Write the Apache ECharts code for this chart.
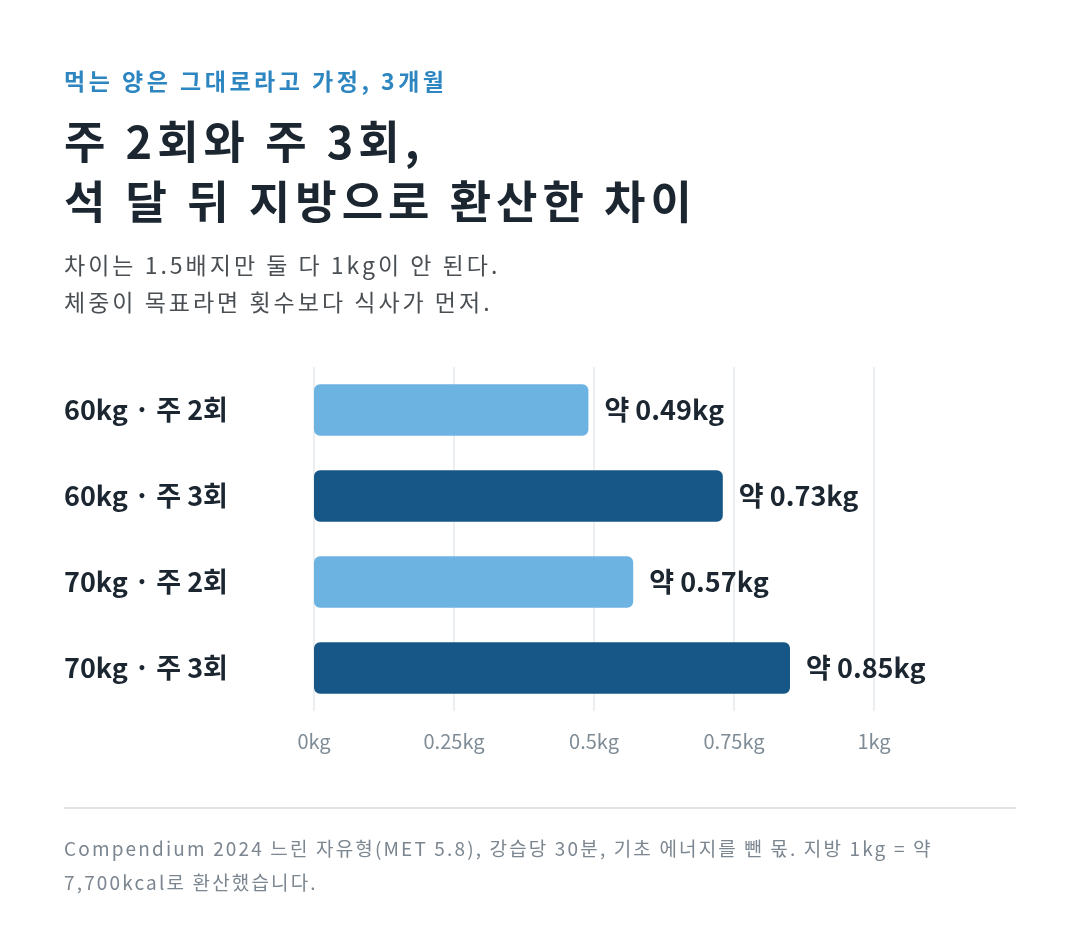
<!DOCTYPE html>
<html>
<head>
<meta charset="utf-8">
<script src="https://cdn.jsdelivr.net/npm/echarts@6/dist/echarts.min.js"></script>
<style>
  html, body { margin: 0; padding: 0; background: #fff; }
  #wrap { position: relative; width: 1080px; height: 940px; font-family: "Noto Sans CJK KR", sans-serif; }
  #chart { position: absolute; left: 0; top: 0; width: 1080px; height: 940px; }
  .txt { position: absolute; left: 64px; white-space: nowrap; }
  #kicker { top: 68px; font-size: 23px; line-height: 24px; font-weight: bold; color: #2e86c1; letter-spacing: 3.5px; }
  #title { top: 110px; font-size: 45px; line-height: 60px; font-weight: bold; color: #1b2631; letter-spacing: 5px; }
  #desc { top: 246px; font-size: 23px; line-height: 37px; color: #4a4f54; letter-spacing: 3px; }
  #note { top: 831px; font-size: 19px; line-height: 34px; color: #7b8690; letter-spacing: 2.15px; }
  #rule { position: absolute; left: 64px; top: 807px; width: 952px; height: 2px; background: #dfe3e6; }
</style>
</head>
<body>
<div id="wrap">
  <div id="chart"></div>
  <div class="txt" id="kicker">먹는 양은 그대로라고 가정, 3개월</div>
  <div class="txt" id="title">주 2회와 주 3회,<br>석 달 뒤 지방으로 환산한 차이</div>
  <div class="txt" id="desc">차이는 1.5배지만 둘 다 1kg이 안 된다.<br>체중이 목표라면 횟수보다 식사가 먼저.</div>
  <div id="rule"></div>
  <div class="txt" id="note">Compendium 2024 느린 자유형(MET 5.8), 강습당 30분, 기초 에너지를 뺀 몫. 지방 1kg = 약<br>7,700kcal로 환산했습니다.</div>
</div>
<script>
// 데이터
const categories = ['60kg · 주 2회', '60kg · 주 3회', '70kg · 주 2회', '70kg · 주 3회'];
const fatLoss = [0.49, 0.73, 0.57, 0.85];
const barColors = ['#6db3e2', '#175788', '#6db3e2', '#175788'];
const tickLabels = ['0kg', '0.25kg', '0.5kg', '0.75kg', '1kg'];

const FONT = '"Noto Sans CJK KR", sans-serif';

let myChart = echarts.init(document.getElementById('chart'));
let option = {
  textStyle: { fontFamily: FONT },
  grid: {
    left: 314,
    right: 206,
    top: 367,
    bottom: 229
  },
  xAxis: {
    type: 'value',
    min: 0,
    max: 1,
    interval: 0.25,
    axisLine: { show: false },
    axisTick: { show: false },
    splitLine: { show: true, lineStyle: { color: '#e6eaed', width: 1.5 } },
    axisLabel: {
      margin: 20,
      color: '#7f8c96',
      fontSize: 20,
      fontFamily: FONT,
      formatter: function (v) { return tickLabels[Math.round(v / 0.25)]; }
    }
  },
  yAxis: {
    type: 'category',
    inverse: true,
    data: categories,
    axisLine: { show: false },
    axisTick: { show: false },
    axisLabel: {
      align: 'left',
      margin: 250,
      color: '#1b2631',
      fontSize: 27,
      fontWeight: 'bold',
      fontFamily: FONT
    }
  },
  series: [
    {
      type: 'bar',
      data: fatLoss.map(function (v, i) {
        return { value: v, itemStyle: { color: barColors[i] } };
      }),
      barCategoryGap: '40%',
      itemStyle: { borderRadius: 6 },
      label: {
        show: true,
        position: 'right',
        distance: 16,
        color: '#1b2631',
        fontSize: 27,
        fontWeight: 'bold',
        fontFamily: FONT,
        formatter: function (p) { return '약 ' + p.value.toFixed(2) + 'kg'; }
      },
      animation: false
    }
  ]
};
myChart.setOption(option);
</script>
</body>
</html>
